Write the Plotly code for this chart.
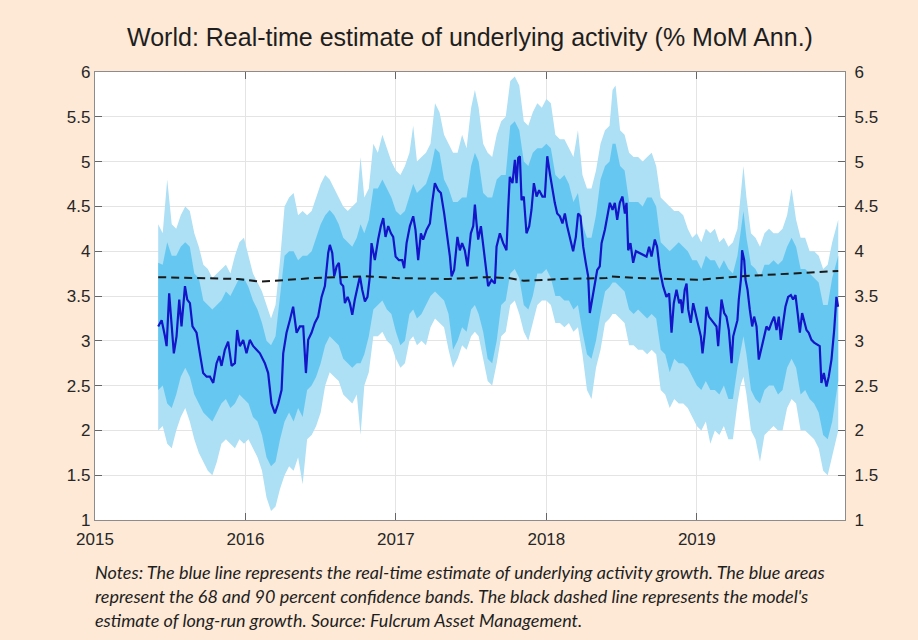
import plotly.graph_objects as go

# ---------------------------------------------------------------------------
# Real-time estimate of underlying activity growth (decimal years, % MoM ann.)
# ---------------------------------------------------------------------------
est_t = [
    2015.420, 2015.443, 2015.465, 2015.476, 2015.493, 2015.509, 2015.524, 2015.542,
    2015.560, 2015.575, 2015.598, 2015.613, 2015.631, 2015.648, 2015.675, 2015.697,
    2015.719, 2015.742, 2015.764, 2015.786, 2015.808, 2015.826, 2015.841, 2015.863,
    2015.885, 2015.908, 2015.930, 2015.945, 2015.963, 2015.985, 2016.007, 2016.029,
    2016.052, 2016.074, 2016.096, 2016.129, 2016.151, 2016.173, 2016.196, 2016.218,
    2016.240, 2016.251, 2016.273, 2016.295, 2016.317, 2016.340, 2016.362, 2016.384,
    2016.402, 2016.417, 2016.439, 2016.461, 2016.483, 2016.506, 2016.528, 2016.550,
    2016.561, 2016.577, 2016.590, 2016.606, 2016.621, 2016.634, 2016.650, 2016.661,
    2016.679, 2016.694, 2016.710, 2016.727, 2016.749, 2016.761, 2016.776, 2016.794,
    2016.811, 2016.827, 2016.838, 2016.860, 2016.882, 2016.900, 2016.916, 2016.931,
    2016.949, 2016.967, 2016.982, 2016.998, 2017.020, 2017.042, 2017.055, 2017.071,
    2017.093, 2017.115, 2017.130, 2017.148, 2017.166, 2017.181, 2017.204, 2017.226,
    2017.241, 2017.259, 2017.281, 2017.299, 2017.321, 2017.343, 2017.359, 2017.370,
    2017.387, 2017.409, 2017.425, 2017.440, 2017.458, 2017.476, 2017.498, 2017.514,
    2017.525, 2017.536, 2017.547, 2017.565, 2017.580, 2017.596, 2017.613, 2017.635,
    2017.658, 2017.669, 2017.691, 2017.713, 2017.735, 2017.746, 2017.757, 2017.775,
    2017.791, 2017.802, 2017.813, 2017.824, 2017.835, 2017.850, 2017.868, 2017.886,
    2017.901, 2017.917, 2017.935, 2017.952, 2017.974, 2017.990, 2018.006, 2018.023,
    2018.041, 2018.056, 2018.072, 2018.090, 2018.107, 2018.123, 2018.138, 2018.156,
    2018.178, 2018.196, 2018.211, 2018.227, 2018.245, 2018.262, 2018.278, 2018.289,
    2018.307, 2018.322, 2018.338, 2018.355, 2018.367, 2018.389, 2018.404, 2018.422,
    2018.440, 2018.455, 2018.471, 2018.488, 2018.506, 2018.522, 2018.533, 2018.544,
    2018.559, 2018.577, 2018.595, 2018.617, 2018.639, 2018.666, 2018.683, 2018.699,
    2018.721, 2018.736, 2018.754, 2018.776, 2018.798, 2018.816, 2018.832, 2018.847,
    2018.865, 2018.883, 2018.894, 2018.903, 2018.920, 2018.932, 2018.943, 2018.960,
    2018.976, 2018.991, 2019.009, 2019.027, 2019.038, 2019.053, 2019.064, 2019.080,
    2019.098, 2019.115, 2019.131, 2019.142, 2019.153, 2019.164, 2019.182, 2019.197,
    2019.213, 2019.231, 2019.242, 2019.257, 2019.270, 2019.279, 2019.293, 2019.301,
    2019.315, 2019.324, 2019.337, 2019.352, 2019.368, 2019.381, 2019.397, 2019.412,
    2019.430, 2019.448, 2019.463, 2019.479, 2019.496, 2019.514, 2019.530, 2019.545,
    2019.558, 2019.574, 2019.589, 2019.607, 2019.625, 2019.640, 2019.656, 2019.673,
    2019.685, 2019.700, 2019.713, 2019.729, 2019.744, 2019.762, 2019.780, 2019.802,
    2019.817, 2019.828, 2019.844, 2019.862, 2019.877, 2019.895, 2019.913, 2019.928,
    2019.939,
]
est_val = [
    3.16, 3.23, 3.05, 2.94, 3.53, 3.20, 2.86, 3.05,
    3.46, 3.16, 3.61, 3.46, 3.42, 3.16, 3.09, 2.86,
    2.64, 2.60, 2.60, 2.53, 2.75, 2.83, 2.72, 2.90,
    2.99, 2.72, 2.75, 3.12, 2.94, 3.01, 2.86, 3.01,
    2.94, 2.90, 2.86, 2.75, 2.64, 2.30, 2.19, 2.30,
    2.45, 2.86, 3.09, 3.23, 3.38, 3.09, 3.16, 3.16,
    2.64, 3.01, 3.09, 3.20, 3.27, 3.49, 3.61, 3.98,
    4.07, 3.98, 3.72, 3.83, 3.87, 3.64, 3.61, 3.42,
    3.49, 3.42, 3.29, 3.46, 3.61, 3.72, 3.57, 3.44,
    3.49, 3.72, 4.09, 3.90, 4.13, 4.28, 4.37, 4.16,
    4.28, 4.20, 4.16, 3.94, 3.90, 3.90, 3.81, 4.09,
    4.28, 4.39, 4.24, 3.90, 4.20, 4.13, 4.24, 4.31,
    4.54, 4.76, 4.68, 4.65, 4.42, 4.13, 3.94, 3.72,
    3.79, 4.16, 4.01, 4.09, 4.01, 3.83, 4.20, 4.28,
    4.52, 4.31, 4.13, 4.28, 4.05, 3.83, 3.61, 3.68,
    3.64, 4.05, 4.20, 4.09, 4.01, 4.46, 4.83, 4.76,
    5.02, 4.76, 5.04, 5.06, 4.57, 4.61, 4.20, 4.28,
    4.46, 4.76, 4.61, 4.68, 4.61, 4.61, 5.06, 4.87,
    4.68, 4.54, 4.42, 4.39, 4.31, 4.42, 4.28, 4.16,
    4.00, 4.16, 4.42, 4.39, 4.05, 3.87, 3.72, 3.31,
    3.49, 3.61, 3.79, 3.83, 4.09, 4.24, 4.39, 4.54,
    4.46, 4.54, 4.35, 4.54, 4.61, 4.42, 4.54, 4.01,
    4.09, 3.87, 4.00, 3.98, 3.96, 3.94, 4.05, 3.94,
    4.13, 4.05, 3.79, 3.61, 3.49, 3.53, 3.09, 3.42,
    3.57, 3.42, 3.46, 3.31, 3.57, 3.64, 3.35, 3.20,
    3.42, 3.31, 3.20, 3.05, 2.86, 3.09, 3.38, 3.27,
    3.23, 3.20, 3.16, 2.94, 3.23, 3.46, 3.31, 3.27,
    3.12, 2.75, 3.05, 3.16, 3.23, 3.46, 3.68, 4.01,
    3.90, 3.68, 3.57, 3.35, 3.16, 3.27, 3.16, 2.79,
    2.94, 3.05, 3.16, 3.12, 3.20, 3.27, 3.12, 3.27,
    3.01, 3.20, 3.38, 3.49, 3.51, 3.46, 3.51, 3.27,
    3.09, 3.31, 3.23, 3.12, 3.09, 3.01, 2.98, 2.96,
    2.94, 2.53, 2.64, 2.49, 2.60, 2.79, 3.12, 3.49,
    3.38,
]

# ---------------------------------------------------------------------------
# Confidence bands (68% and 90%)
# ---------------------------------------------------------------------------
band_t = [
    2015.42, 2015.45, 2015.48, 2015.51, 2015.54, 2015.57, 2015.60, 2015.63,
    2015.66, 2015.69, 2015.72, 2015.75, 2015.78, 2015.81, 2015.84, 2015.87,
    2015.90, 2015.93, 2015.96, 2015.99, 2016.02, 2016.05, 2016.08, 2016.11,
    2016.14, 2016.17, 2016.20, 2016.23, 2016.26, 2016.29, 2016.32, 2016.35,
    2016.38, 2016.41, 2016.44, 2016.47, 2016.50, 2016.53, 2016.56, 2016.59,
    2016.62, 2016.65, 2016.68, 2016.71, 2016.74, 2016.765, 2016.79, 2016.82,
    2016.85, 2016.88, 2016.91, 2016.94, 2016.97, 2017.00, 2017.03, 2017.06,
    2017.09, 2017.115, 2017.14, 2017.17, 2017.20, 2017.23, 2017.26, 2017.29,
    2017.32, 2017.35, 2017.38, 2017.41, 2017.44, 2017.47, 2017.50, 2017.525,
    2017.55, 2017.58, 2017.61, 2017.64, 2017.67, 2017.70, 2017.73, 2017.76,
    2017.79, 2017.82, 2017.85, 2017.88, 2017.91, 2017.94, 2017.97, 2018.00,
    2018.03, 2018.06, 2018.09, 2018.12, 2018.15, 2018.18, 2018.21, 2018.24,
    2018.27, 2018.30, 2018.33, 2018.36, 2018.39, 2018.42, 2018.44, 2018.46,
    2018.49, 2018.52, 2018.55, 2018.58, 2018.61, 2018.64, 2018.67, 2018.70,
    2018.73, 2018.76, 2018.79, 2018.82, 2018.85, 2018.88, 2018.91, 2018.94,
    2018.97, 2019.00, 2019.03, 2019.06, 2019.09, 2019.12, 2019.15, 2019.18,
    2019.21, 2019.24, 2019.27, 2019.29, 2019.31, 2019.33, 2019.36, 2019.39,
    2019.42, 2019.45, 2019.48, 2019.51, 2019.54, 2019.57, 2019.60, 2019.63,
    2019.66, 2019.69, 2019.72, 2019.75, 2019.78, 2019.81, 2019.84, 2019.87,
    2019.90, 2019.94,
]
upper90 = [
    4.30, 4.20, 4.80, 4.30, 4.25, 4.40, 4.50, 4.45,
    4.20, 4.05, 3.85, 3.80, 3.70, 3.75, 3.80, 3.85,
    3.75, 3.95, 4.10, 4.15, 3.95, 3.75, 3.65, 3.55,
    3.40, 3.25, 3.40, 3.90, 4.50, 4.60, 4.65, 4.40,
    4.45, 4.40, 4.45, 4.60, 4.75, 4.85, 4.80, 4.70,
    4.60, 4.50, 4.45, 4.50, 4.55, 5.05, 4.60, 4.70,
    5.20, 5.10, 5.30, 5.15, 5.00, 4.90, 4.85, 4.95,
    5.10, 5.40, 5.00, 5.05, 5.10, 5.20, 5.65, 5.55,
    5.30, 5.20, 5.10, 5.10, 5.30, 5.15, 5.60, 5.80,
    5.60, 5.20, 5.10, 5.05, 5.30, 5.45, 5.50, 5.90,
    5.95, 5.85, 5.45, 5.40, 5.55, 5.65, 5.60, 5.70,
    5.65, 5.30, 5.25, 5.25, 5.15, 5.05, 5.35, 4.85,
    4.70, 4.70, 4.90, 5.20, 5.35, 5.40, 5.80, 5.85,
    5.35, 5.30, 5.10, 5.05, 5.05, 5.00, 5.05, 5.10,
    4.95, 4.60, 4.55, 4.50, 4.45, 4.45, 4.40, 4.25,
    4.15, 4.20, 4.10, 4.25, 4.20, 4.25, 4.10, 4.15,
    4.05, 4.10, 4.25, 4.60, 4.95, 4.60, 4.20, 4.15,
    4.05, 4.20, 4.25, 4.20, 4.20, 4.25, 4.40, 4.70,
    4.35, 4.15, 4.15, 4.00, 4.00, 3.95, 3.80, 3.85,
    4.10, 4.35,
]
upper68 = [
    3.87, 3.85, 4.10, 3.95, 3.95, 4.05, 4.10, 4.05,
    3.75, 3.70, 3.45, 3.40, 3.35, 3.40, 3.45, 3.55,
    3.50, 3.60, 3.70, 3.70, 3.60, 3.45, 3.35, 3.20,
    3.00, 2.95, 3.05, 3.50, 3.95, 4.00, 4.00, 3.90,
    3.95, 3.95, 4.00, 4.15, 4.30, 4.40, 4.46, 4.40,
    4.30, 4.15, 4.10, 4.05, 4.15, 4.30, 4.20, 4.35,
    4.70, 4.70, 4.80, 4.70, 4.60, 4.45, 4.40, 4.45,
    4.60, 4.75, 4.65, 4.70, 4.75, 4.90, 5.15, 5.10,
    4.80, 4.70, 4.55, 4.55, 4.60, 4.60, 4.95, 5.10,
    5.00, 4.65, 4.60, 4.60, 4.80, 4.85, 4.85, 5.40,
    5.45, 5.35, 5.00, 4.95, 5.10, 5.15, 5.15, 5.20,
    5.15, 4.85, 4.80, 4.85, 4.75, 4.55, 4.65, 4.30,
    4.15, 4.15, 4.40, 4.80, 4.95, 5.00, 5.20, 5.20,
    4.95, 4.90, 4.55, 4.55, 4.55, 4.50, 4.60, 4.60,
    4.50, 4.10, 4.05, 4.00, 4.05, 4.10, 4.05, 4.00,
    3.90, 3.90, 3.80, 3.95, 3.90, 3.90, 3.80, 3.90,
    3.80, 3.75, 3.95, 4.20, 4.45, 4.15, 3.85, 3.80,
    3.70, 3.85, 3.85, 3.90, 3.85, 3.90, 4.05, 4.15,
    4.05, 3.80, 3.80, 3.75, 3.70, 3.65, 3.40, 3.40,
    3.70, 3.95,
]
lower68 = [
    2.45, 2.50, 2.30, 2.25, 2.40, 2.60, 2.70, 2.60,
    2.40, 2.30, 2.20, 2.15, 2.10, 2.20, 2.30, 2.35,
    2.25, 2.30, 2.40, 2.35, 2.30, 2.15, 2.10, 1.95,
    1.70, 1.60, 1.65, 1.90, 2.10, 2.20, 2.10, 2.25,
    2.15, 2.45, 2.50, 2.60, 2.75, 2.95, 3.05, 3.00,
    2.95, 2.80, 2.75, 2.70, 2.75, 2.75, 2.85, 3.05,
    3.35, 3.40, 3.45, 3.35, 3.30, 3.10, 2.95, 3.00,
    3.30, 3.35, 3.25, 3.30, 3.40, 3.50, 3.55, 3.50,
    3.45, 3.30, 2.90, 3.00, 3.15, 3.10, 3.35, 3.40,
    3.30, 3.10, 2.80, 2.75, 3.00, 3.40, 3.45, 3.75,
    3.80, 3.70, 3.40, 3.35, 3.50, 3.75, 3.75, 3.80,
    3.70, 3.50, 3.50, 3.45, 3.45, 3.35, 3.40, 3.10,
    2.85, 2.80, 3.00, 3.30, 3.55, 3.60, 3.65, 3.65,
    3.60, 3.55, 3.35, 3.30, 3.35, 3.30, 3.25, 3.30,
    3.25, 2.90, 2.85, 2.65, 2.80, 2.75, 2.75, 2.70,
    2.60, 2.50, 2.45, 2.55, 2.45, 2.45, 2.40, 2.50,
    2.35, 2.35, 2.70, 2.90, 3.05, 2.85, 2.45, 2.35,
    2.30, 2.45, 2.50, 2.50, 2.40, 2.45, 2.70, 2.80,
    2.70, 2.40, 2.45, 2.35, 2.30, 2.20, 1.95, 1.90,
    2.10, 2.55,
]
lower90 = [
    2.00, 2.05, 1.85, 1.80, 2.00, 2.15, 2.25, 2.10,
    1.90, 1.75, 1.65, 1.55, 1.50, 1.65, 1.85, 1.90,
    1.85, 1.80, 1.90, 1.85, 1.90, 1.80, 1.70, 1.55,
    1.25, 1.10, 1.15, 1.35, 1.50, 1.60, 1.55, 1.70,
    1.40, 1.90, 1.95, 2.05, 2.20, 2.50, 2.65, 2.60,
    2.55, 2.40, 2.35, 2.30, 2.40, 1.95, 2.50, 2.65,
    3.05, 3.05, 3.10, 3.00, 2.95, 2.80, 2.70, 2.75,
    3.00, 3.05, 2.95, 3.00, 2.95, 3.15, 3.25, 3.20,
    3.15, 2.90, 2.70, 2.80, 2.95, 2.90, 3.05, 3.10,
    3.05, 2.80, 2.55, 2.50, 2.75, 3.05, 3.10, 3.40,
    3.45, 3.30, 3.10, 3.00, 3.20, 3.40, 3.45, 3.45,
    3.40, 3.20, 3.20, 3.15, 3.20, 3.10, 3.15, 2.85,
    2.45, 2.35, 2.70, 2.90, 3.20, 3.25, 3.30, 3.30,
    3.25, 3.20, 2.95, 2.95, 2.90, 2.90, 2.85, 2.90,
    2.85, 2.45, 2.40, 2.25, 2.35, 2.30, 2.30, 2.25,
    2.15, 2.05, 2.00, 2.10, 1.85, 2.00, 1.95, 2.05,
    1.90, 1.90, 2.30, 2.50, 2.60, 2.40, 2.00, 1.90,
    1.65, 1.95, 2.00, 2.05, 2.00, 2.00, 2.25, 2.35,
    2.30, 2.00, 2.00, 1.95, 1.90, 1.80, 1.55, 1.50,
    1.70, 2.00,
]

# ---------------------------------------------------------------------------
# Model estimate of long-run growth
# ---------------------------------------------------------------------------
trend_t = [
    2015.42, 2015.70, 2015.95, 2016.10, 2016.25, 2016.45, 2016.80, 2017.00,
    2017.35, 2017.60, 2017.75, 2017.85, 2018.10, 2018.40, 2018.42, 2018.60,
    2018.85, 2019.00, 2019.30, 2019.60, 2019.94,
]
trend_val = [
    3.71, 3.70, 3.69, 3.66, 3.68, 3.70, 3.72, 3.70,
    3.69, 3.71, 3.70, 3.67, 3.69, 3.70, 3.72, 3.70,
    3.69, 3.68, 3.72, 3.75, 3.78,
]

year_ticks = [2015, 2016, 2017, 2018, 2019]
level_ticks = [1, 1.5, 2, 2.5, 3, 3.5, 4, 4.5, 5, 5.5, 6]

title_text = "World: Real-time estimate of underlying activity (% MoM Ann.)"
note_lines = [
    "Notes: The blue line represents the real-time estimate of underlying activity growth. The blue areas",
    "represent the 68 and 90 percent confidence bands. The black dashed line represents the model's",
    "estimate of long-run growth. Source: Fulcrum Asset Management.",
]

PAPER = "#fde9d6"
BAND90 = "#addff5"
BAND68 = "#66c8f0"
LINE = "#1414c8"
AXIS = "#8c8c8c"
TEXT = "#262626"
SANS = "Liberation Sans"

fig = go.Figure()

# 90% band
fig.add_trace(go.Scatter(x=band_t, y=upper90, mode="lines", line=dict(width=0),
                         hoverinfo="skip", showlegend=False))
fig.add_trace(go.Scatter(x=band_t, y=lower90, mode="lines", line=dict(width=0),
                         fill="tonexty", fillcolor=BAND90, hoverinfo="skip",
                         showlegend=False))
# 68% band
fig.add_trace(go.Scatter(x=band_t, y=upper68, mode="lines", line=dict(width=0),
                         hoverinfo="skip", showlegend=False))
fig.add_trace(go.Scatter(x=band_t, y=lower68, mode="lines", line=dict(width=0),
                         fill="tonexty", fillcolor=BAND68, hoverinfo="skip",
                         showlegend=False))
# real-time estimate
fig.add_trace(go.Scatter(x=est_t, y=est_val, mode="lines",
                         line=dict(color=LINE, width=2.2), showlegend=False))
# long-run growth (drawn on the right-hand axis, which mirrors the left one)
fig.add_trace(go.Scatter(x=trend_t, y=trend_val, mode="lines", yaxis="y2",
                         line=dict(color="#1a1a1a", width=2, dash="8px,5px"),
                         showlegend=False))

axis_font = dict(family=SANS, size=17, color=TEXT)

fig.update_layout(
    width=918, height=640,
    paper_bgcolor=PAPER, plot_bgcolor="white",
    margin=dict(l=95, r=73, t=72, b=120),
    title=dict(text=title_text, x=0.5, xref="paper", xanchor="center",
               y=1 - 37 / 640, yref="container", yanchor="middle",
               font=dict(family=SANS, size=25, color="#1e1e1e")),
    xaxis=dict(range=[2015, 2019.985], tickvals=year_ticks,
               ticktext=[str(y) for y in year_ticks],
               showgrid=True, gridcolor="#e4e4e4", gridwidth=1,
               showline=True, linecolor=AXIS, linewidth=1.3, mirror="ticks",
               ticks="inside", ticklen=7, tickcolor="#666666",
               ticklabelstandoff=3,
               tickfont=axis_font, zeroline=False),
    yaxis=dict(range=[1, 6], tickvals=level_ticks,
               showgrid=True, gridcolor="#e4e4e4", gridwidth=1,
               showline=True, linecolor=AXIS, linewidth=1.3, mirror=True,
               ticks="inside", ticklen=7, tickcolor="#666666",
               ticklabelstandoff=0,
               tickfont=axis_font, zeroline=False),
    yaxis2=dict(range=[1, 6], tickvals=level_ticks, overlaying="y", side="right",
                showgrid=False, showline=True, linecolor=AXIS, linewidth=1.3,
                ticks="inside", ticklen=7, tickcolor="#666666",
                ticklabelstandoff=5,
                tickfont=axis_font, zeroline=False),
)

# explanatory notes under the chart
for i, line in enumerate(note_lines):
    fig.add_annotation(
        text="<i>" + line + "</i>", showarrow=False,
        xref="paper", yref="paper", xanchor="left", yanchor="middle",
        x=-2 / 750, y=-(572 + 24 * i - 520) / 448,
        font=dict(family="Lato", size=18, color="#1e1e1e"),
        align="left",
    )

fig.write_html("out.html")
